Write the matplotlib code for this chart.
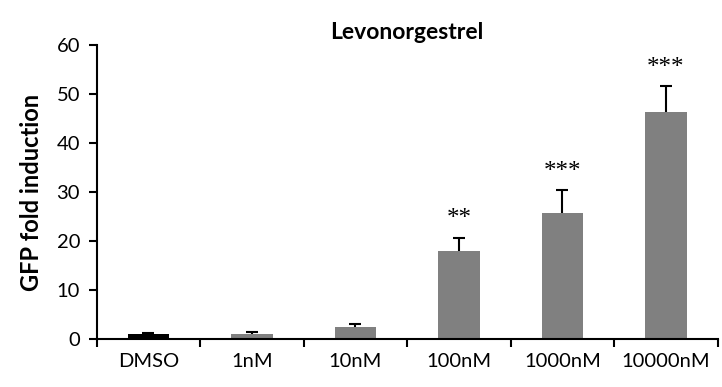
import matplotlib
matplotlib.use("Agg")
import matplotlib.pyplot as plt

categories = ["DMSO", "1nM", "10nM", "100nM", "1000nM", "10000nM"]
values = [1.0, 1.0, 2.5, 18.0, 25.7, 46.3]
errors = [0.3, 0.4, 0.5, 2.7, 4.6, 5.3]
stars = ["", "", "", "**", "***", "***"]
colors = ["#000000", "#808080", "#808080", "#808080", "#808080", "#808080"]

plt.rcParams["font.family"] = ["Lato", "DejaVu Sans"]

fig = plt.figure(figsize=(7.22, 3.87), dpi=100)
ax = fig.add_axes([0.134, 0.124, 0.860, 0.760])

x = range(len(categories))
ax.bar(x, values, width=0.4, color=colors, zorder=2)
eb = ax.errorbar(x, values, yerr=[[0] * len(errors), errors], fmt="none",
                 ecolor="black", elinewidth=1.5, capsize=4.3, capthick=1.5, zorder=3)
# hide the lower caps (only upper error shown)
eb[1][0].set_visible(False)

for i, s in enumerate(stars):
    if s:
        ax.text(i, values[i] + errors[i] + 1.5, s, ha="center", va="bottom",
                fontsize=18, family="Liberation Serif")

ax.set_xlim(-0.5, len(categories) - 0.5)
ax.set_ylim(0, 60)
ax.set_yticks(range(0, 61, 10))
ax.set_xticks(x)
ax.set_xticklabels(categories, fontsize=14.5)
ax.tick_params(axis="x", length=0, pad=10)
ax.set_xticks([i - 0.5 for i in range(len(categories) + 1)], minor=True)
ax.tick_params(axis="x", which="minor", direction="out", length=6, width=1.5)
ax.tick_params(axis="y", direction="out", length=6, width=1.5, labelsize=14.5, pad=6)

for side in ["top", "right"]:
    ax.spines[side].set_visible(False)
for side in ["left", "bottom"]:
    ax.spines[side].set_linewidth(1.5)

ax.set_ylabel("GFP fold induction", fontsize=17, fontweight="bold", labelpad=10)
ax.set_title("Levonorgestrel", fontsize=16.5, fontweight="bold", pad=4)

fig.savefig("out.png", dpi=100)
